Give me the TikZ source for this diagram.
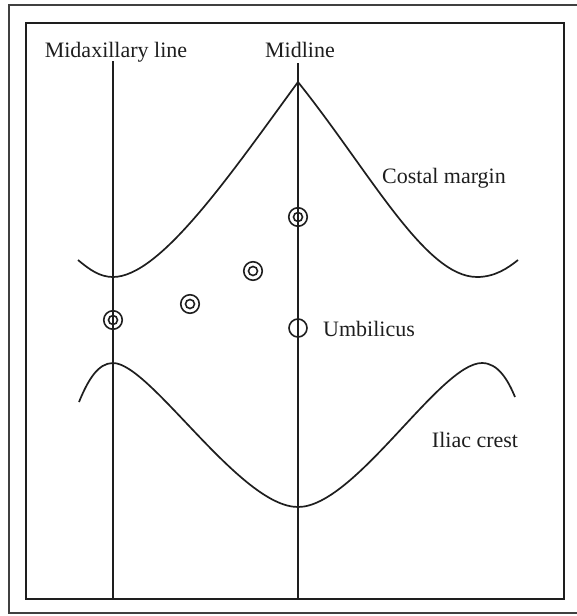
\documentclass[tikz,border=0pt]{standalone}
\usepackage{fontspec}
\setmainfont{Liberation Serif}
\usepackage{tikz}
\usetikzlibrary{positioning}
\definecolor{figink}{RGB}{30,30,30}

\begin{document}
\begin{tikzpicture}[x=1pt,y=-1pt,
  lbl/.style={inner sep=0pt,font=\fontsize{22}{26}\selectfont,text=figink},
  ln/.style={line width=1.7pt,draw=figink},
  ring/.style={circle,draw=figink,line width=1.6pt,minimum size=18.5pt,inner sep=0pt},
  dotc/.style={circle,draw=figink,line width=1.6pt,minimum size=9pt,inner sep=0pt}]
\useasboundingbox (0,0) rectangle (577,616);
% Frames (the outer one runs off the right edge).
\draw[line width=1.4pt,draw=figink!85] (577,5) -- (9,5) -- (9,613) -- (577,613);
\draw[line width=1.8pt,draw=figink] (26,23) rectangle (564,599);
% Vertical reference lines.
\node[lbl,anchor=base] (lAx) at (116,57) {Midaxillary line};
\node[lbl,anchor=base] (lMid) at (300,57) {Midline};
\coordinate (axTop) at (113,61); \coordinate (axBot) at (113,599);
\coordinate (mdTop) at (298,63); \coordinate (mdBot) at (298,599);
\draw[ln] (axTop) -- (axBot);
\draw[ln] (mdTop) -- (mdBot);
% Costal margin.
\coordinate (apex) at (298,82);
\draw[ln] (78,260) .. controls (90,270) and (100,277) .. (113,277)
  .. controls (160,277) and (230,175) .. (apex)
  .. controls (370,172) and (425,277) .. (477,277)
  .. controls (495,277) and (508,268) .. (518,260);
\node[lbl,anchor=base] (lCost) at (444,183) {Costal margin};
% Iliac crest.
\draw[ln] (79,402) .. controls (88,380) and (98,363) .. (113,363)
  .. controls (150,363) and (240,507) .. (298,507)
  .. controls (355,507) and (440,363) .. (482,363)
  .. controls (498,363) and (508,380) .. (515,397);
\node[lbl,anchor=base] (lIliac) at (475,447) {Iliac crest};
% Points.
\foreach \p [count=\i] in {(113,320),(190,304),(253,271),(298,217)}{
  \node[ring] (pt\i) at \p {};
  \node[dotc] (pt\i c) at (pt\i) {};}
\node[ring,minimum size=18pt] (umb) at (298,328) {};
\node[lbl,anchor=base west] (lUmb) at (323,336) {Umbilicus};
\end{tikzpicture}
\end{document}
